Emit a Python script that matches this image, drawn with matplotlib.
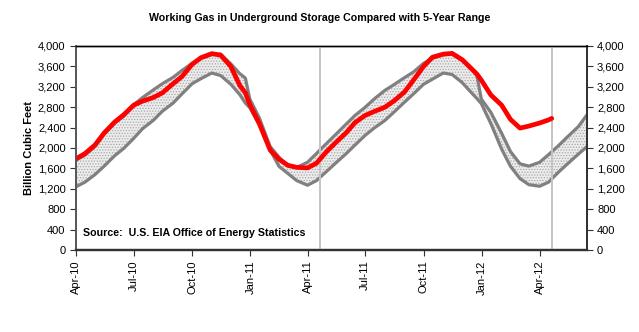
import pandas as pd
import matplotlib.pyplot as plt
import matplotlib.dates as mdates
from matplotlib.ticker import FuncFormatter

plt.rcParams['font.family'] = ['Liberation Sans', 'DejaVu Sans']
plt.rcParams['hatch.color'] = '#a8a8a8'
plt.rcParams['hatch.linewidth'] = 0.6

# sample dates shared by the 5-year range series
range_dates = [
    '2010-04-01', '2010-04-15', '2010-05-01', '2010-05-15', '2010-06-01', '2010-06-15',
    '2010-07-01', '2010-07-15', '2010-08-01', '2010-08-15', '2010-09-01', '2010-09-15',
    '2010-10-01', '2010-10-15', '2010-11-01', '2010-11-15', '2010-12-01', '2010-12-15',
    '2010-12-24', '2010-12-31', '2011-01-15', '2011-02-01', '2011-02-15', '2011-03-01',
    '2011-03-15', '2011-04-01', '2011-04-15', '2011-05-01', '2011-05-15', '2011-06-01',
    '2011-06-15', '2011-07-01', '2011-07-15', '2011-08-01', '2011-08-15', '2011-09-01',
    '2011-09-15', '2011-10-01', '2011-10-15', '2011-11-01', '2011-11-15', '2011-12-01',
    '2011-12-15', '2011-12-24', '2011-12-31', '2012-01-15', '2012-02-01', '2012-02-15',
    '2012-03-01', '2012-03-15', '2012-04-01', '2012-04-15', '2012-05-01', '2012-05-15',
    '2012-06-01', '2012-06-14',
]
range_max = [
    1760, 1860, 2030, 2270, 2490, 2620, 2850, 2990, 3140, 3260, 3385, 3520,
    3660, 3760, 3830, 3840, 3650, 3460, 3370, 2960, 2590, 2030, 1820, 1650,
    1620, 1720, 1890, 2090, 2260, 2470, 2640, 2800, 2960, 3130, 3240, 3380,
    3490, 3660, 3760, 3830, 3840, 3720, 3560, 3420, 2960, 2700, 2290, 1930,
    1690, 1645, 1720, 1870, 2050, 2220, 2420, 2640,
]
range_min = [
    1240, 1330, 1480, 1640, 1850, 1990, 2190, 2380, 2544, 2720, 2880, 3060,
    3260, 3360, 3470, 3420, 3250, 3050, 2880, 2790, 2450, 1960, 1640, 1500,
    1360, 1270, 1360, 1540, 1700, 1890, 2060, 2250, 2390, 2540, 2700, 2900,
    3060, 3250, 3350, 3470, 3440, 3280, 3090, 2970, 2870, 2480, 1980, 1640,
    1400, 1280, 1250, 1330, 1530, 1690, 1880, 2020,
]

# working gas in storage, latest week 2012-04-20
storage_dates = range_dates[:52] + ['2012-04-20']
storage = [
    1790, 1890, 2060, 2290, 2510, 2650, 2840, 2920, 2990, 3080, 3260, 3400,
    3640, 3770, 3850, 3820, 3600, 3230, 3080, 2850, 2480, 1960, 1780, 1660,
    1620, 1610, 1700, 1930, 2100, 2300, 2500, 2640, 2715, 2800, 2920, 3100,
    3330, 3600, 3780, 3840, 3855, 3730, 3560, 3450, 3330, 3040, 2840, 2560,
    2390, 2430, 2490, 2550, 2580,
]

year_markers = ['2011-04-21', '2012-04-20']

rd = pd.to_datetime(range_dates)
sd = pd.to_datetime(storage_dates)

fig = plt.figure(figsize=(6.39, 3.32), dpi=100)
ax = fig.add_axes([0.119, 0.247, 0.799, 0.6145])

ax.fill_between(rd, range_min, range_max, facecolor='#ececec', hatch='......',
                edgecolor='none', linewidth=0, zorder=1)
ax.plot(rd, range_max, color='#808080', lw=2.3, zorder=2)
ax.plot(rd, range_min, color='#808080', lw=2.3, zorder=2)
for d in year_markers:
    ax.axvline(pd.Timestamp(d), color='#c4c4c4', lw=1.4, zorder=3)
ax.plot(sd, storage, color='#ff0000', lw=3.4, zorder=4, solid_capstyle='round')

ax.set_xlim(pd.Timestamp('2010-04-01'), pd.Timestamp('2012-06-14'))
ax.set_ylim(0, 4000)
ax.set_yticks(range(0, 4001, 400))
fmt = FuncFormatter(lambda v, p: f'{int(v):,}')
ax.yaxis.set_major_formatter(fmt)
ax.xaxis.set_major_locator(mdates.MonthLocator(bymonth=[1, 4, 7, 10]))
ax.xaxis.set_major_formatter(mdates.DateFormatter('%b-%y'))
ax.tick_params(axis='x', rotation=90, labelsize=8, length=4, color='#333333')
ax.tick_params(axis='y', labelsize=8, length=4, color='#333333')

ax2 = ax.twinx()
ax2.set_ylim(0, 4000)
ax2.set_yticks(range(0, 4001, 400))
ax2.yaxis.set_major_formatter(fmt)
ax2.tick_params(axis='y', labelsize=8, length=4, color='#333333')

for a in (ax, ax2):
    a.spines['top'].set_color('black')
    a.spines['top'].set_linewidth(1.0)
    a.spines['left'].set_color('#555555')
    a.spines['left'].set_linewidth(1.2)
    a.spines['right'].set_color('#333333')
    a.spines['right'].set_linewidth(1.4)
    a.spines['bottom'].set_color('#333333')
    a.spines['bottom'].set_linewidth(1.6)

ax.set_ylabel('Billion Cubic Feet', fontsize=8, fontweight='bold', labelpad=3)
ax.text(0.013, 0.085, 'Source:  U.S. EIA Office of Energy Statistics', transform=ax.transAxes,
        fontsize=7.7, fontweight='bold', va='center', ha='left', zorder=5)
fig.text(0.5, 0.945, 'Working Gas in Underground Storage Compared with 5-Year Range',
         ha='center', va='center', fontsize=7.7, fontweight='bold')

fig.savefig('out.png', dpi=100)
